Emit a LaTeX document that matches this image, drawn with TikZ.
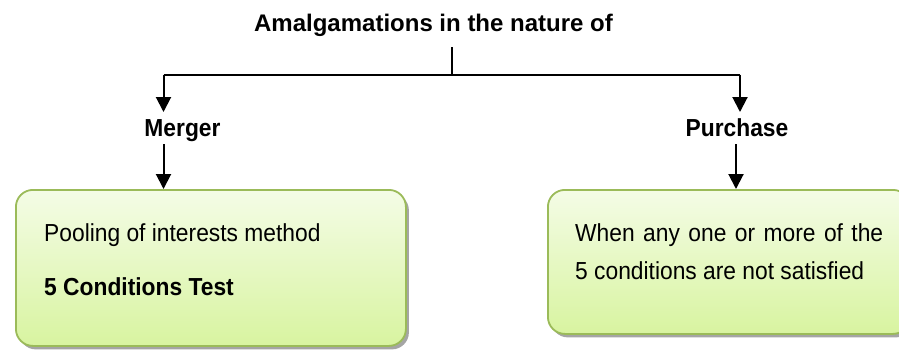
\documentclass[tikz,border=0pt]{standalone}
\usepackage{fontspec}
\setmainfont{Liberation Sans}
\usetikzlibrary{arrows.meta,shadows}
\definecolor{boxtop}{HTML}{F4FCE6}
\definecolor{boxbot}{HTML}{D8F4A0}
\definecolor{boxline}{HTML}{9BBB59}
\newcommand{\talltext}[1]{\scalebox{1}[1.08]{#1}}
\tikzset{
  lbl/.style={inner sep=0pt, anchor=base, font=\fontsize{22.8}{27}\selectfont\bfseries},
  txt/.style={inner sep=0pt, anchor=base west, font=\fontsize{22.8}{27}\selectfont},
  conn/.style={line width=2pt, black},
  arr/.style={conn, -{Triangle[length=15pt,width=15pt]}},
  greenbox/.style={draw=boxline, line width=1.8pt, rounded corners=17pt,
    top color=boxtop, bottom color=boxbot, anchor=north west, inner sep=0pt,
    drop shadow={shadow xshift=3pt, shadow yshift=-3.5pt, opacity=0.5, fill=black!70}}
}
\begin{document}
\begin{tikzpicture}[x=1pt,y=-1pt]
\useasboundingbox (0,0) rectangle (899,349);
\clip (0,0) rectangle (899,349);
% title
\node[lbl, font=\fontsize{24}{28}\selectfont\bfseries] (title) at (433.5,31.7) {Amalgamations in the nature of};
\coordinate (top) at (452,47);
\coordinate (j) at (452,74.5);
\coordinate (jl) at (163.5,74.5);
\coordinate (jr) at (740,74.5);
\draw[conn] (top) -- (j);
\draw[conn] (jl) -- (jr);
% level 2
\node[lbl] (merger) at (182.5,136.5) {\talltext{Merger}};
\node[lbl] (purchase) at (737,136) {\talltext{Purchase}};
\coordinate (ml) at (163.5,112);
\coordinate (pr) at (740,112);
\draw[arr] (jl) -- (ml);
\draw[arr] (jr) -- (pr);
% boxes
\node[greenbox, minimum width=390pt, minimum height=156pt] (lbox) at (15,189) {};
\node[greenbox, minimum width=362pt, minimum height=144pt] (rbox) at (547,189) {};
\coordinate (ms) at (163.5,144);
\coordinate (ps) at (736,144);
\draw[arr] (ms) -- (ms |- lbox.north);
\draw[arr] (ps) -- (ps |- rbox.north);
% texts
\node[txt] (t1) at (44,241) {\talltext{Pooling of interests method}};
\node[txt, font=\fontsize{22.8}{27}\selectfont\bfseries] (t2) at (44,295) {\talltext{5 Conditions Test}};
\node[txt] (t3) at (575,241.5) {\talltext{\makebox[308pt][s]{When any one or more of the}}};
\node[txt] (t4) at (575,279.5) {\talltext{5 conditions are not satisfied}};
\end{tikzpicture}
\end{document}
